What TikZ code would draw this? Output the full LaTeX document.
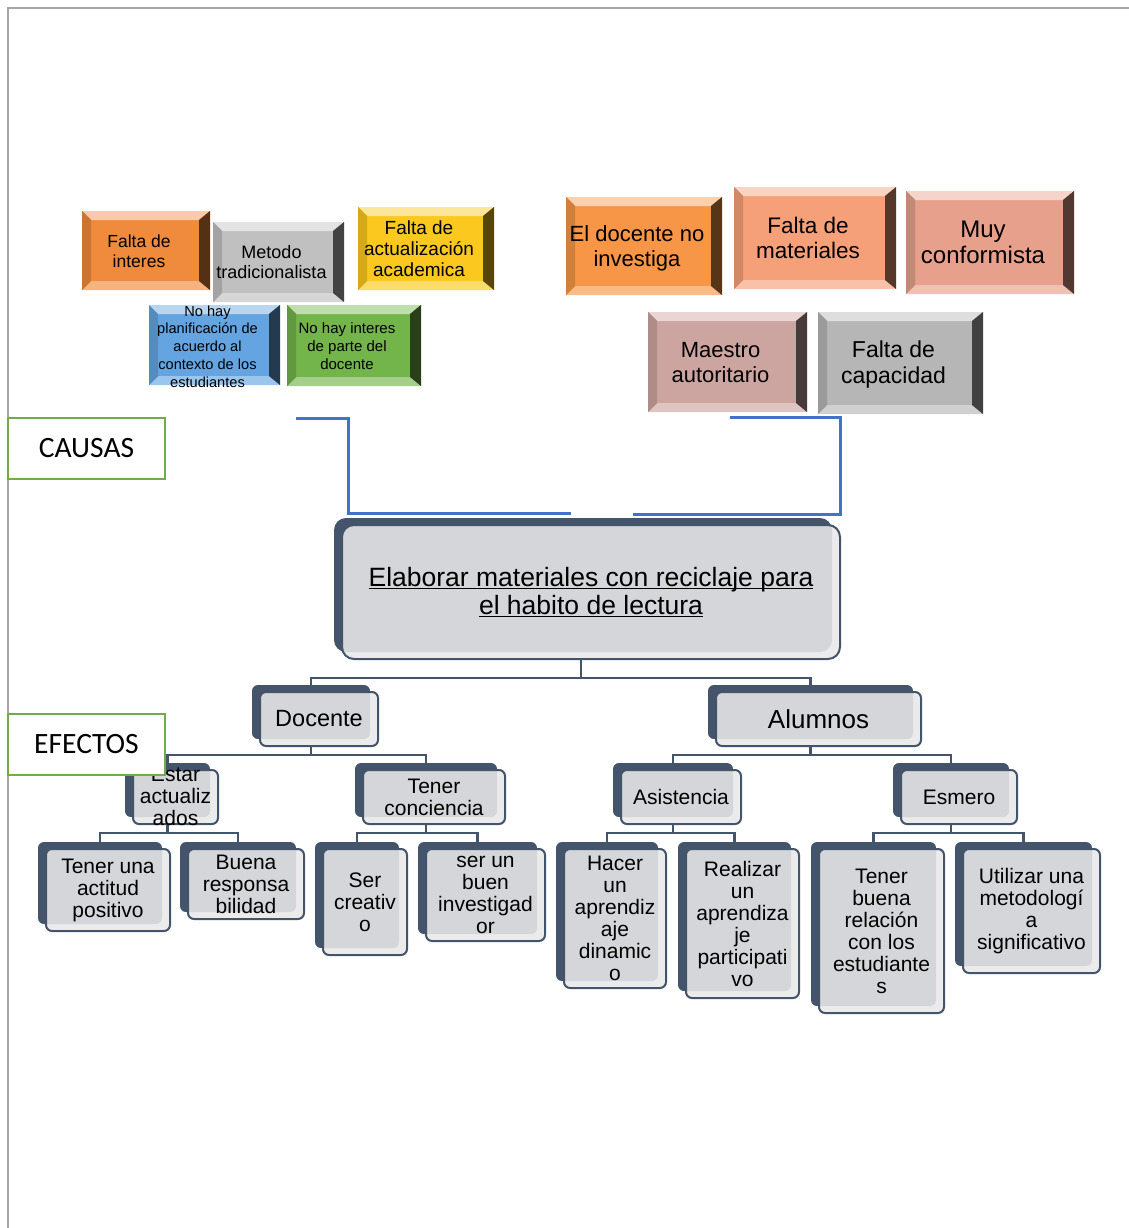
\documentclass[tikz,border=0pt]{standalone}
\usepackage{fontspec}
\setmainfont{Liberation Sans}
\newfontfamily\calibri{Carlito}
\usetikzlibrary{shadows,backgrounds}

\definecolor{slate}{RGB}{68,84,106}
\definecolor{facegray}{RGB}{232,232,233}
\definecolor{linkblue}{RGB}{68,114,196}
\definecolor{labelgreen}{RGB}{112,173,71}
\definecolor{pagegray}{RGB}{165,165,165}
\definecolor{interesC}{RGB}{240,138,60}
\definecolor{metodoC}{RGB}{192,192,192}
\definecolor{actualC}{RGB}{250,200,30}
\definecolor{planC}{RGB}{100,165,225}
\definecolor{nointC}{RGB}{115,180,75}
\definecolor{noinvC}{RGB}{246,150,70}
\definecolor{materC}{RGB}{245,160,120}
\definecolor{conformC}{RGB}{230,160,140}
\definecolor{autorC}{RGB}{205,165,160}
\definecolor{capacC}{RGB}{182,182,182}

\newcommand{\flatbox}[2]{\smash{\raisebox{-5pt}{\parbox[c]{#1}{\centering #2}}}}
\newcommand{\facetext}[1]{\raisebox{-2.5pt}[\height][\depth]{\begin{tabular}{@{}c@{}}#1\end{tabular}}\kern14pt}
\newcommand{\lowline}[1]{\underline{\raisebox{0pt}[\height][0pt]{#1}}}

\begin{document}
\begin{tikzpicture}[x=1pt, y=1pt,
    bevel/.style={fill=#1, inner sep=1pt, text=black,
      path picture={
        \fill[#1!45!white] (path picture bounding box.north west) -- (path picture bounding box.north east)
          -- ([shift={(-11pt,-9pt)}]path picture bounding box.north east)
          -- ([shift={(9pt,-9pt)}]path picture bounding box.north west) -- cycle;
        \fill[#1!65!white] (path picture bounding box.south west) -- (path picture bounding box.south east)
          -- ([shift={(-11pt,9pt)}]path picture bounding box.south east)
          -- ([shift={(9pt,9pt)}]path picture bounding box.south west) -- cycle;
        \fill[#1!85!black] (path picture bounding box.north west) -- ([shift={(9pt,-9pt)}]path picture bounding box.north west)
          -- ([shift={(9pt,9pt)}]path picture bounding box.south west) -- (path picture bounding box.south west) -- cycle;
        \fill[#1!35!black] (path picture bounding box.north east) -- (path picture bounding box.south east)
          -- ([shift={(-11pt,9pt)}]path picture bounding box.south east)
          -- ([shift={(-11pt,-9pt)}]path picture bounding box.north east) -- cycle;
      }},
    card/.style={draw=slate, line width=2pt, fill=facegray, fill opacity=0.88, text opacity=1,
      rounded corners=6pt, align=center, inner sep=1pt, font=\fontsize{21}{22}\selectfont,
      general shadow={fill=slate, fill opacity=1, shadow xshift=-8pt, shadow yshift=7pt}},
    tree/.style={draw=slate, line width=2.5pt},
    link/.style={draw=linkblue, line width=3pt},
    tag/.style={draw=labelgreen, line width=2pt, fill=white, minimum width=157pt, minimum height=61pt,
      font=\calibri\fontsize{29.5}{30}\selectfont}]
    \useasboundingbox (0,0) rectangle (1129,-1228);

    % Page frame
    \draw[pagegray, line width=2pt] (8,-1228) -- (8,-8) -- (1129,-8);

    % Causes, left group
    \node[bevel=interesC, minimum width=128pt, minimum height=79pt, font=\fontsize{17.5}{20}\selectfont] (interes) at (146,-250.5) {\facetext{Falta de\\interes}};
    \node[bevel=metodoC, minimum width=131pt, minimum height=80pt, font=\fontsize{18}{20}\selectfont] (metodo) at (278.5,-262) {\facetext{Metodo\\tradicionalista}};
    \node[bevel=actualC, minimum width=136pt, minimum height=83pt, font=\fontsize{19}{21}\selectfont] (actual) at (426,-248.5) {\facetext{Falta de\\actualización\\academica}};
    \node[bevel=planC, minimum width=131pt, minimum height=80pt, font=\fontsize{14.6}{17.7}\selectfont] (plan) at (214.5,-345) {\flatbox{112pt}{No hay\\planificación de\\acuerdo al\\contexto de los\\estudiantes}\kern14pt};
    \node[bevel=nointC, minimum width=134pt, minimum height=81pt, font=\fontsize{15}{18}\selectfont] (noint) at (354,-345.5) {\facetext{No hay interes\\de parte del\\docente}};

    % Causes, right group
    \node[bevel=noinvC, minimum width=156pt, minimum height=98pt, font=\fontsize{22}{25}\selectfont] (noinv) at (644,-246) {\facetext{El docente no\\investiga}};
    \node[bevel=materC, minimum width=162pt, minimum height=102pt, font=\fontsize{22.5}{25}\selectfont] (mater) at (815,-238) {\facetext{Falta de\\materiales}};
    \node[bevel=conformC, minimum width=168pt, minimum height=103pt, font=\fontsize{24}{26}\selectfont] (conform) at (990,-242.5) {\facetext{Muy\\conformista}};
    \node[bevel=autorC, minimum width=159pt, minimum height=100pt, font=\fontsize{22}{25}\selectfont] (autor) at (727.5,-362) {\facetext{Maestro\\autoritario}};
    \node[bevel=capacC, minimum width=165pt, minimum height=102pt, font=\fontsize{23}{26}\selectfont] (capac) at (900.5,-363) {\facetext{Falta de\\capacidad}};

    % Problem
    \node[card, rounded corners=12pt, minimum width=498pt, minimum height=134pt, font=\fontsize{26.5}{28}\selectfont] (goal) at (591,-592) {\lowline{Elaborar materiales con reciclaje para}\\\lowline{el habito de lectura}};

    % Links from the causes
    \coordinate (lcause) at (296,-418);
    \coordinate (rcause) at (730,-417);
    \draw[link] (lcause) -- ++(52,0) |- ([shift={(-20pt,11pt)}]goal.north);
    \draw[link] (rcause) -- ++(110,0) |- ([shift={(42pt,10pt)}]goal.north);

    % Effects, first level
    \node[card, minimum width=118pt, minimum height=54pt, font=\fontsize{23.5}{25}\selectfont] (docente) at (319,-719) {Docente};
    \node[card, minimum width=205pt, minimum height=54pt, font=\fontsize{26}{28}\selectfont] (alumnos) at (818.5,-719) {Alumnos};

    % Effects, second level
    \node[card, minimum width=85pt, minimum height=54pt] (estar) at (175.5,-797) {\flatbox{82pt}{Estar\\actualiz\\ados}};
    \node[card, minimum width=142pt, minimum height=54pt] (conciencia) at (434,-797) {Tener\\conciencia};
    \node[card, minimum width=120pt, minimum height=54pt] (asistencia) at (681,-797) {Asistencia};
    \node[card, minimum width=116pt, minimum height=54pt] (esmero) at (959,-797) {Esmero};

    % Effects, third level
    \node[card, minimum width=124pt, minimum height=82pt] (actitud) at (108,-890) {Tener una\\actitud\\positivo};
    \node[card, minimum width=116pt, minimum height=70pt] (respons) at (246,-884) {Buena\\responsa\\bilidad};
    \node[card, minimum width=84pt, minimum height=106pt] (creativo) at (365,-902) {Ser\\creativ\\o};
    \node[card, minimum width=119pt, minimum height=92pt] (investig) at (485.5,-895) {ser un\\buen\\investigad\\or};
    \node[card, minimum width=102pt, minimum height=139pt] (dinamico) at (615,-918.5) {Hacer\\un\\aprendiz\\aje\\dinamic\\o};
    \node[card, minimum width=113pt, minimum height=149pt] (particip) at (742.5,-923.5) {Realizar\\un\\aprendiza\\je\\participati\\vo};
    \node[card, minimum width=125pt, minimum height=164pt] (relacion) at (881.5,-931) {Tener\\buena\\relación\\con los\\estudiante\\s};
    \node[card, minimum width=137pt, minimum height=124pt] (metodologia) at (1031.5,-911) {Utilizar una\\metodologí\\a\\significativo};

    % Tree lines
    \begin{scope}[on background layer]
    \draw[tree] ([xshift=-10pt]goal.south) -- ++(0,-18) -| ([xshift=-8pt]docente.north);
    \draw[tree] ([xshift=-10pt]goal.south) -- ++(0,-18) -| ([xshift=-8pt]alumnos.north);
    \draw[tree] ([xshift=-8pt]docente.south) -- ++(0,-8) -| ([xshift=-8pt]estar.north);
    \draw[tree] ([xshift=-8pt]docente.south) -- ++(0,-8) -| ([xshift=-8pt]conciencia.north);
    \draw[tree] ([xshift=-8pt]alumnos.south) -- ++(0,-8) -| ([xshift=-8pt]asistencia.north);
    \draw[tree] ([xshift=-8pt]alumnos.south) -- ++(0,-8) -| ([xshift=-8pt]esmero.north);
    \draw[tree] ([xshift=-8pt]estar.south) -- ++(0,-8) -| ([xshift=-8pt]actitud.north);
    \draw[tree] ([xshift=-8pt]estar.south) -- ++(0,-8) -| ([xshift=-8pt]respons.north);
    \draw[tree] ([xshift=-8pt]conciencia.south) -- ++(0,-8) -| ([xshift=-8pt]creativo.north);
    \draw[tree] ([xshift=-8pt]conciencia.south) -- ++(0,-8) -| ([xshift=-8pt]investig.north);
    \draw[tree] ([xshift=-8pt]asistencia.south) -- ++(0,-8) -| ([xshift=-8pt]dinamico.north);
    \draw[tree] ([xshift=-8pt]asistencia.south) -- ++(0,-8) -| ([xshift=-8pt]particip.north);
    \draw[tree] ([xshift=-8pt]esmero.south) -- ++(0,-8) -| ([xshift=-8pt]relacion.north);
    \draw[tree] ([xshift=-8pt]esmero.south) -- ++(0,-8) -| ([xshift=-8pt]metodologia.north);
    \end{scope}

    % Labels
    \node[tag] (causas) at (86.5,-448.5) {CAUSAS};
    \node[tag] (efectos) at (86.5,-744.5) {EFECTOS};
\end{tikzpicture}
\end{document}
